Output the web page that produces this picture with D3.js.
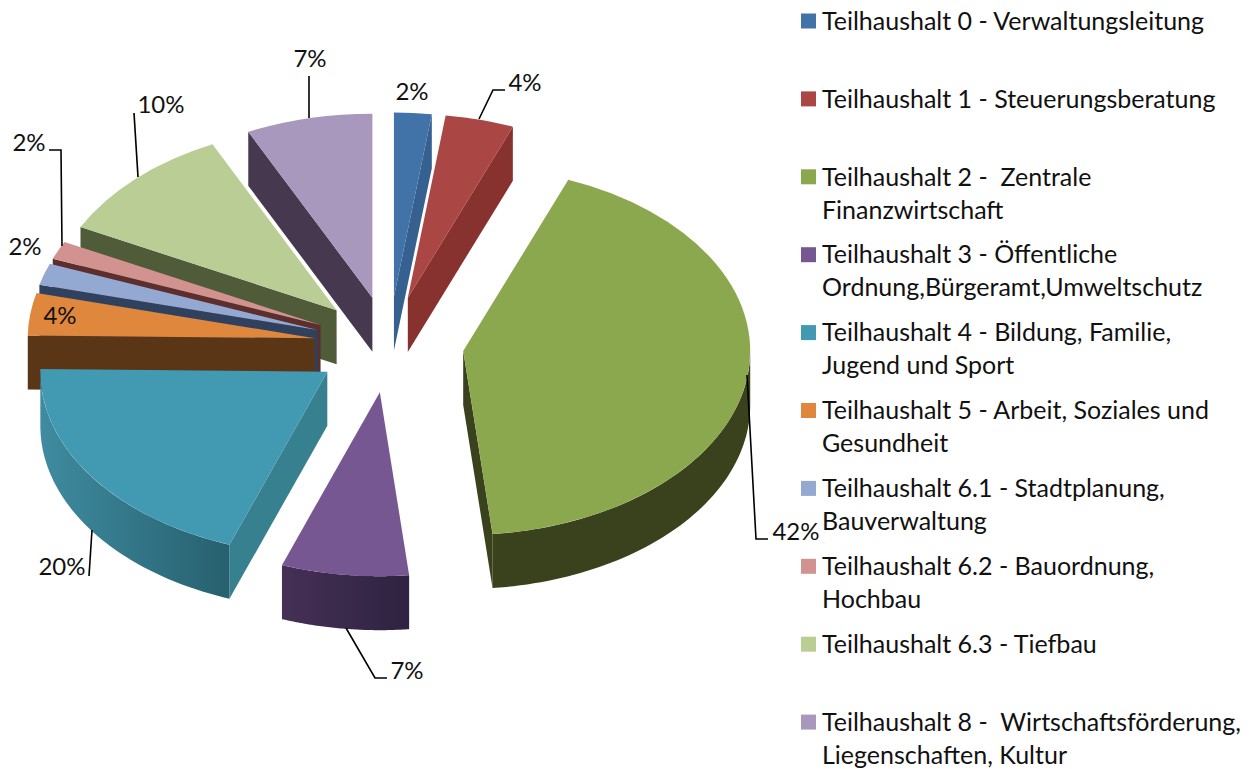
<!DOCTYPE html>
<html>
<head>
<meta charset="utf-8">
<script src="https://d3js.org/d3.v7.min.js"></script>
<style>
  html, body {margin: 0; padding: 0; background: #fff;}
  svg {display: block;}
  text {font-family: Lato, "Open Sans", sans-serif; fill: #111;}
</style>
</head>
<body>
<svg id="chart" width="1250" height="769"></svg>
<script>
// shares (slice angles), labels as printed
var shares = [2.1, 3.85, 42.3, 7.15, 19.65, 3.7, 1.9, 1.6, 10.4, 7.1];
var shareLabels = ["2%", "4%", "42%", "7%", "20%", "4%", "2%", "2%", "10%", "7%"];
var legendLines = [
  ["Teilhaushalt 0 - Verwaltungsleitung"],
  ["Teilhaushalt 1 - Steuerungsberatung"],
  ["Teilhaushalt 2 -  Zentrale", "Finanzwirtschaft"],
  ["Teilhaushalt 3 - Öffentliche", "Ordnung,Bürgeramt,Umweltschutz"],
  ["Teilhaushalt 4 - Bildung, Familie,", "Jugend und Sport"],
  ["Teilhaushalt 5 - Arbeit, Soziales und", "Gesundheit"],
  ["Teilhaushalt 6.1 - Stadtplanung,", "Bauverwaltung"],
  ["Teilhaushalt 6.2 - Bauordnung,", "Hochbau"],
  ["Teilhaushalt 6.3 - Tiefbau"],
  ["Teilhaushalt 8 -  Wirtschaftsförderung,", "Liegenschaften, Kultur"]
];

var topColors = ["#4273a8", "#aa4644", "#8ca84f", "#775791", "#4199b2", "#e0873e", "#93a9d1", "#d29290", "#b9cd95", "#a898bd"];
var radialColors = ["#35608f", "#87322f", "#39421c", "#3c2c50", "#37808f", "#5a3516", "#2f415f", "#5c2e2e", "#4f5b39", "#46394f"];
var rimLeft = ["#35608f", "#87322f", "#39421c", "#453056", "#3f8ba0", "#5a3516", "#2f415f", "#5c2e2e", "#4f5b39", "#46394f"];
var rimRight = ["#35608f", "#87322f", "#39421c", "#2e2340", "#27606f", "#5a3516", "#2f415f", "#5c2e2e", "#4f5b39", "#46394f"];

// label placement and leader lines
var labelX = [412, 525, 796, 407, 62, 60, 25, 29, 161, 310];
var labelY = [92, 83, 532, 671, 567, 316, 247, 143, 105, 59];
var leaders = [
  null,
  [[505, 90], [493, 90], [479, 119]],
  [[768, 539], [756, 539], [747, 375]],
  [[387, 678], [375, 678], [346, 628]],
  [[89, 576], [92, 530]],
  null,
  null,
  [[49, 150], [61, 150], [62, 246]],
  [[134, 113], [138, 177]],
  [[309, 76], [309, 118]]
];

// legend layout
var legendX = 822, legendFirst = 21, legendStep = 77.9, legendLeading = 33;

// pie geometry
var cx = 389, cy = 344.5, rx = 287, ry = 184, depth = 54, explode = 0.261;

var svg = d3.select("#chart");
var defs = svg.append("defs");

var pie = d3.pie().sort(null).value(function(d) { return d; });
var arcs = pie(shares);
arcs.forEach(function(d, i) {
  d.index = i;
  d.mid = (d.startAngle + d.endAngle) / 2;
  d.ox = Math.sin(d.mid) * explode * rx;
  d.oy = -Math.cos(d.mid) * explode * ry;
});

var topArc = d3.arc().innerRadius(0).outerRadius(rx);
var line = d3.line();

function rim(a) {
  return [rx * Math.sin(a), -ry * Math.cos(a)];
}

// back slices first so the front ones paint over them
var order = arcs.slice().sort(function(a, b) { return Math.cos(b.mid) - Math.cos(a.mid); });

var slices = svg.selectAll("g.slice").data(order).enter().append("g")
  .attr("class", "slice")
  .attr("transform", function(d) { return "translate(" + (cx + d.ox) + "," + (cy + d.oy) + ")"; });

slices.each(function(d) {
  var g = d3.select(this);

  // cut faces, only the ones turned to the viewer
  [[d.startAngle, Math.sin(d.startAngle) < -0.001], [d.endAngle, Math.sin(d.endAngle) > 0.001]].forEach(function(f) {
    if (!f[1]) return;
    var p = rim(f[0]);
    g.append("path")
      .attr("d", line([[0, 0], p, [p[0], p[1] + depth], [0, depth]]) + "Z")
      .attr("fill", radialColors[d.index]);
  });

  // outer wall, front half of the ellipse only
  var a0 = Math.max(d.startAngle, Math.PI / 2), a1 = Math.min(d.endAngle, 3 * Math.PI / 2);
  if (a1 > a0) {
    var steps = d3.range(0, 61).map(function(k) { return a0 + (a1 - a0) * k / 60; });
    var upper = steps.map(rim);
    var lower = upper.map(function(p) { return [p[0], p[1] + depth]; }).reverse();
    var grad = defs.append("linearGradient").attr("id", "wall" + d.index);
    grad.append("stop").attr("offset", "0").attr("stop-color", rimLeft[d.index]);
    grad.append("stop").attr("offset", "1").attr("stop-color", rimRight[d.index]);
    g.append("path")
      .attr("d", line(upper.concat(lower)) + "Z")
      .attr("fill", "url(#wall" + d.index + ")");
  }

  // top face
  g.append("path")
    .attr("transform", "scale(1," + (ry / rx) + ")")
    .attr("d", topArc(d))
    .attr("fill", topColors[d.index]);
});

// leader lines
svg.selectAll("path.leader").data(leaders.filter(Boolean)).enter().append("path")
  .attr("class", "leader")
  .attr("d", function(d) { return line(d); })
  .attr("fill", "none")
  .attr("stroke", "#000")
  .attr("stroke-width", 1.6);

// percent labels
svg.selectAll("text.pct").data(shareLabels).enter().append("text")
  .attr("class", "pct")
  .attr("x", function(d, i) { return labelX[i]; })
  .attr("y", function(d, i) { return labelY[i]; })
  .attr("dy", "0.35em")
  .attr("text-anchor", "middle")
  .style("font-size", "24px")
  .text(function(d) { return d; });

// legend
var legend = svg.selectAll("g.entry").data(legendLines).enter().append("g")
  .attr("class", "entry")
  .attr("transform", function(d, i) { return "translate(" + legendX + "," + (legendFirst + i * legendStep) + ")"; });

legend.append("rect")
  .attr("x", -21).attr("y", -7.5).attr("width", 15).attr("height", 15)
  .attr("fill", function(d, i) { return topColors[i]; });

legend.selectAll("text").data(function(d) { return d; }).enter().append("text")
  .attr("x", 0)
  .attr("y", function(d, i) { return i * legendLeading; })
  .attr("dy", "0.35em")
  .style("font-size", "25px")
  .style("white-space", "pre")
  .text(function(d) { return d; });
</script>
</body>
</html>
